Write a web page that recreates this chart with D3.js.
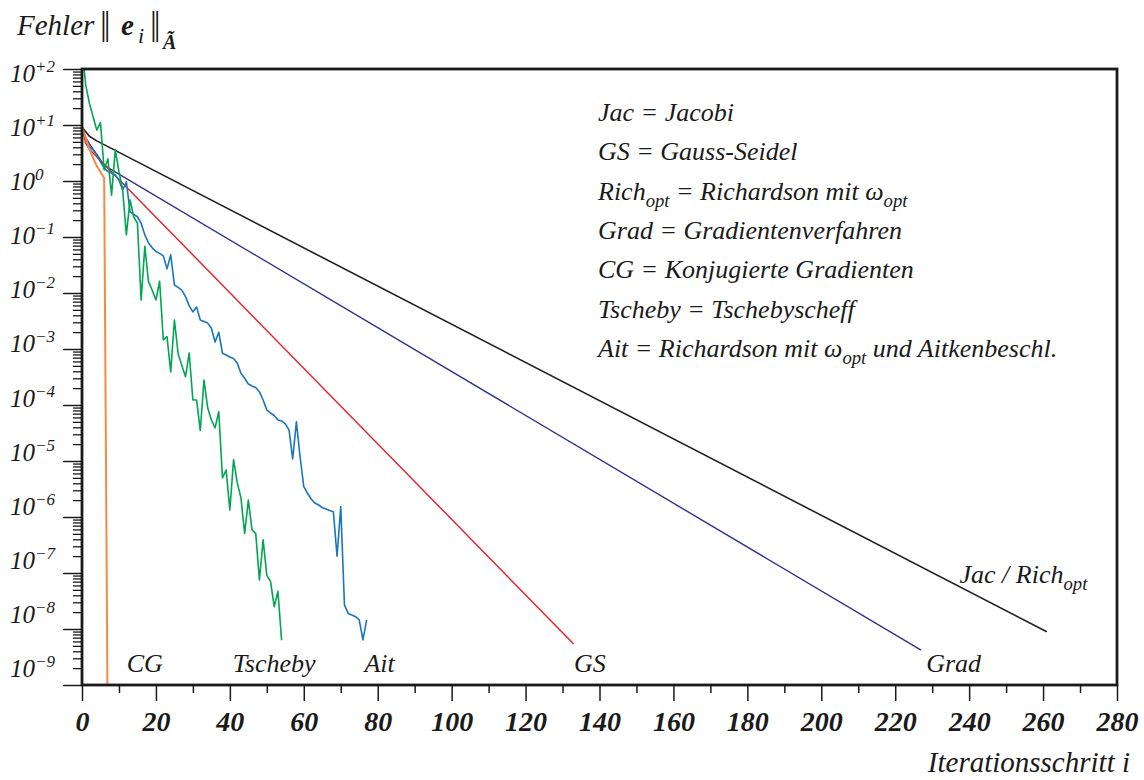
<!DOCTYPE html>
<html>
<head>
<meta charset="utf-8">
<script src="https://cdn.jsdelivr.net/npm/d3@7"></script>
<style>
  body { margin: 0; background: #fff; }
</style>
</head>
<body>
<div id="chart"></div>
<script>
// error norms, per iteration step i
const jacSteps = [0, 1, 2, 4, 261];
const jacErr = [9.2, 7.6, 6.3, 5.2, 8.9e-9];

const gsSteps = [0, 1, 2, 133];
const gsErr = [9.2, 4.7, 3.7, 5.4e-9];

const gradSteps = [0, 1, 2, 4, 6, 227];
const gradErr = [9.2, 6.0, 4.6, 3.0, 1.9, 4.2e-9];

const cgSteps = [0, 1, 2, 3, 4, 5, 6, 7];
const cgErr = [9.2, 5.9, 3.7, 2.6, 1.85, 1.45, 1.13, 4.5e-11];

// Tschebyscheff, one value per step 0..54
const tschebyErr = [
  250, 52, 24.5, 14, 8.1, 11, 1.57, 2.5, 0.56, 3.6,
  1.47, 0.69, 0.109, 0.46, 0.23, 0.175, 0.0075, 0.068, 0.0158, 0.0112,
  0.0075, 0.0162, 0.00145, 0.00166, 3.9e-4, 0.0033, 8.3e-4, 5.1e-4, 3.2e-4, 8.5e-4,
  1.23e-4, 1.23e-4, 3.5e-5, 2.8e-4, 8.9e-5, 5.4e-5, 3.9e-5, 7.6e-5, 5.0e-6, 6.9e-6,
  1.33e-6, 1.05e-5, 4.1e-6, 2.2e-6, 5.1e-7, 2.0e-6, 5.9e-7, 5.1e-7, 7.5e-8, 3.9e-7,
  9.1e-8, 7.1e-8, 2.5e-8, 4.7e-8, 6.3e-9
];

// Richardson + Aitken, one value per step 0..77
const aitErr = [
  9.3, 5.8, 4.1, 3.6, 2.9, 2.2, 1.7, 1.47, 1.37, 1.28,
  1.04, 0.69, 0.97, 0.283, 0.252, 0.23, 0.176, 0.109, 0.078, 0.064,
  0.055, 0.051, 0.046, 0.027, 0.048, 0.0139, 0.0126, 0.0113, 0.0086, 0.0059,
  0.0046, 0.0056, 0.0033, 0.0031, 0.0029, 0.00234, 0.00133, 0.00199, 8.4e-4, 7.8e-4,
  7.2e-4, 6.8e-4, 5.6e-4, 3.7e-4, 3.0e-4, 2.37e-4, 2.18e-4, 2.05e-4, 1.71e-4, 1.23e-4,
  8.1e-5, 7.2e-5, 6.5e-5, 5.4e-5, 5.2e-5, 4.6e-5, 3.6e-5, 1.09e-5, 5.0e-5, 1.19e-5,
  3.5e-6, 2.65e-6, 2.1e-6, 1.78e-6, 1.64e-6, 1.48e-6, 1.39e-6, 1.31e-6, 1.24e-6, 2.0e-7,
  1.53e-6, 2.7e-8, 1.9e-8, 1.78e-8, 1.66e-8, 1.45e-8, 6.4e-9, 1.45e-8
];

const xTicks = d3.range(0, 281, 20);
const xMinorTicks = d3.range(10, 280, 20);
const yExponents = d3.range(2, -10, -1);

const legendRows = [
  [["Jac = Jacobi"]],
  [["GS = Gauss-Seidel"]],
  [["Rich"], ["opt", 1], [" = Richardson mit \u03c9"], ["opt", 1]],
  [["Grad = Gradientenverfahren"]],
  [["CG = Konjugierte Gradienten"]],
  [["Tscheby = Tschebyscheff"]],
  [["Ait = Richardson mit \u03c9"], ["opt", 1], [" und Aitkenbeschl."]]
];

const curveLabels = [
  { parts: [["Jac / Rich"], ["opt", 1]], at: 237.4, v: 3.9e-8 },
  { parts: [["CG"]], at: 17, v: 1e-9 },
  { parts: [["Tscheby"]], at: 52, v: 1e-9 },
  { parts: [["Ait"]], at: 80.5, v: 1e-9 },
  { parts: [["GS"]], at: 137.4, v: 1e-9 },
  { parts: [["Grad"]], at: 235.8, v: 1e-9 }
];

const width = 1144;
const height = 780;
const ink = "#1a1a1a";
const serif = "'Liberation Serif', 'Times New Roman', Times, 'DejaVu Serif', serif";

const svg = d3.select("#chart").append("svg")
  .attr("width", width)
  .attr("height", height)
  .attr("font-family", serif)
  .style("display", "block");

const x = d3.scaleLinear([0, 280], [82, 1117]);
const y = d3.scaleLog([1e-9, 1e2], [685, 69]);
// the printed exponent labels sit slightly off the tick marks
const labelY = d3.scaleLinear([2, -9], [73, 668]);

svg.append("clipPath").attr("id", "plot")
  .append("rect")
  .attr("x", x(0)).attr("y", y(1e2))
  .attr("width", x(280) - x(0)).attr("height", y(1e-9) - y(1e2));

const toPoints = (steps, err) => err.map((v, k) => ({ i: steps ? steps[k] : k, v }));

const series = [
  { pts: toPoints(jacSteps, jacErr), color: "#231f20", w: 1.6 },
  { pts: toPoints(gradSteps, gradErr), color: "#2e3192", w: 1.4 },
  { pts: toPoints(gsSteps, gsErr), color: "#ed1c24", w: 1.4 },
  { pts: toPoints(null, aitErr), color: "#1b75bc", w: 1.6 },
  { pts: toPoints(null, tschebyErr), color: "#00a651", w: 1.6 },
  { pts: toPoints(cgSteps, cgErr), color: "#f58a45", w: 2 }
];

const line = d3.line()
  .x(d => x(d.i))
  .y(d => y(d.v));

svg.append("g")
  .attr("clip-path", "url(#plot)")
  .selectAll("path")
  .data(series)
  .join("path")
  .attr("d", d => line(d.pts))
  .attr("fill", "none")
  .attr("stroke", d => d.color)
  .attr("stroke-width", d => d.w)
  .attr("stroke-linejoin", "round");

// x axis
const xAxis = svg.append("g")
  .attr("transform", `translate(0,${y(1e-9)})`)
  .call(d3.axisBottom(x).tickValues(xTicks).tickSize(16).tickFormat(d => d))
  .call(g => g.select(".domain").remove())
  .attr("font-family", serif);
xAxis.selectAll(".tick line").attr("stroke", ink).attr("stroke-width", 1.5);
xAxis.selectAll(".tick text")
  .attr("y", 46).attr("dy", 0)
  .attr("fill", ink)
  .attr("font-family", serif)
  .attr("font-size", 28)
  .attr("font-weight", "bold")
  .attr("font-style", "italic");

svg.append("g")
  .attr("transform", `translate(0,${y(1e-9)})`)
  .call(d3.axisBottom(x).tickValues(xMinorTicks).tickSize(8).tickFormat(""))
  .call(g => g.select(".domain").remove())
  .call(g => g.selectAll(".tick line").attr("stroke", ink).attr("stroke-width", 1.5));

// y axis
const yMinor = [];
yExponents.slice(0, -1).forEach(e => {
  for (let k = 2; k <= 9; k++) yMinor.push(k * Math.pow(10, e - 1));
});

svg.append("g")
  .attr("transform", `translate(${x(0)},0)`)
  .call(d3.axisLeft(y).tickValues(yExponents.map(e => Math.pow(10, e))).tickSize(19).tickFormat(""))
  .call(g => g.select(".domain").remove())
  .call(g => g.selectAll(".tick line").attr("stroke", ink).attr("stroke-width", 1.5));

svg.append("g")
  .attr("transform", `translate(${x(0)},0)`)
  .call(d3.axisLeft(y).tickValues(yMinor).tickSize(9).tickFormat(""))
  .call(g => g.select(".domain").remove())
  .call(g => g.selectAll(".tick line").attr("stroke", ink).attr("stroke-width", 1.3));

const yLab = svg.append("g")
  .attr("fill", ink)
  .attr("font-style", "italic")
  .selectAll("text")
  .data(yExponents)
  .join("text")
  .attr("x", 10)
  .attr("y", e => labelY(e) + 9)
  .attr("font-size", 25);
yLab.append("tspan").text("10");
yLab.append("tspan")
  .attr("dy", -10)
  .attr("font-size", 17)
  .text(e => e > 0 ? "+" + e : e === 0 ? "0" : "\u2212" + (-e));

// frame
svg.append("rect")
  .attr("x", x(0)).attr("y", y(1e2))
  .attr("width", x(280) - x(0)).attr("height", y(1e-9) - y(1e2))
  .attr("fill", "none")
  .attr("stroke", ink)
  .attr("stroke-width", 2.8);

// text with subscripts
function richText(sel, parts, size) {
  parts.forEach(([t, sub], k) => {
    sel.append("tspan")
      .attr("dy", sub ? 7 : (k > 0 && parts[k - 1][1] ? -7 : 0))
      .attr("font-size", sub ? size * 0.72 : size)
      .text(t);
  });
}

const legend = svg.append("g")
  .attr("fill", ink)
  .attr("font-style", "italic");
legendRows.forEach((row, k) => {
  const t = legend.append("text")
    .attr("x", 598)
    .attr("y", 121 + k * 39.3);
  richText(t, row, 26);
});

curveLabels.forEach(c => {
  const t = svg.append("text")
    .attr("fill", ink)
    .attr("font-style", "italic")
    .attr("x", x(c.at))
    .attr("y", y(c.v) - 13)
    .attr("text-anchor", c.parts.length > 1 ? "start" : "middle");
  richText(t, c.parts, 26);
});

// axis titles
const title = svg.append("text")
  .attr("y", 35)
  .attr("fill", ink)
  .attr("font-style", "italic")
  .attr("font-size", 29);
title.append("tspan").attr("x", 17).text("Fehler");
title.append("tspan").attr("x", 100).attr("font-style", "normal").attr("font-size", 34)
  .attr("letter-spacing", -3).text("||");
title.append("tspan").attr("x", 121).attr("font-weight", "bold").text("e");
title.append("tspan").attr("x", 138).attr("font-size", 22).attr("dy", 8).text("i");
title.append("tspan").attr("x", 150).attr("font-style", "normal").attr("font-size", 34)
  .attr("dy", -8).attr("letter-spacing", -3).text("||");
title.append("tspan").attr("x", 163).attr("font-weight", "bold").attr("font-size", 20)
  .attr("dy", 14).text("\u00c3");

svg.append("text")
  .attr("x", 1130).attr("y", 772)
  .attr("text-anchor", "end")
  .attr("fill", ink)
  .attr("font-style", "italic")
  .attr("font-size", 29)
  .text("Iterationsschritt i");
</script>
</body>
</html>
